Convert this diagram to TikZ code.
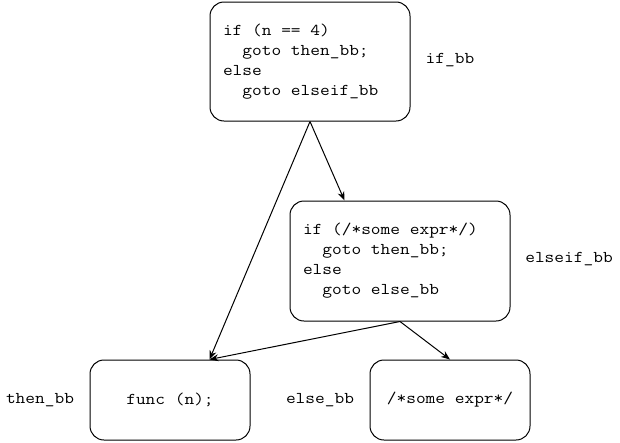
\documentclass[tikz,border=0pt]{standalone}
\usepackage{fontspec}
\newfontfamily\cour[FakeStretch=1.143]{Latin Modern Mono}
\usetikzlibrary{arrows.meta,calc}
\tikzset{
  bb/.style={draw=black, line width=1pt, rounded corners=14pt, inner ysep=0pt,
    font=\cour\fontsize{16.5}{20}\selectfont},
  codebox/.style={bb, align=left, inner xsep=13pt},
  lbl/.style={font=\cour\fontsize{16.5}{20}\selectfont, inner sep=0pt},
  conn/.style={draw=black, line width=1pt, -{Stealth[length=9pt,width=7pt]}}
}
\newcommand{\spc}{\hphantom{x}}
\begin{document}
\begin{tikzpicture}[x=1pt,y=-1pt]
\useasboundingbox (0,0) rectangle (620,442);
\node[codebox, text width=174pt, minimum height=119pt] (ifbb) at (310,61.5)
  {if\spc(n\spc==\spc4)\\\spc\spc goto\spc then\_bb;\\else\\\spc\spc goto\spc elseif\_bb};
\node[codebox, text width=194pt, minimum height=120pt] (elseifbb) at (400,261)
  {if\spc(/*some\spc expr*/)\\\spc\spc goto\spc then\_bb;\\else\\\spc\spc goto\spc else\_bb};
\node[bb, minimum width=160pt, minimum height=80pt] (thenbb) at (170,400) {func\spc(n);};
\node[bb, minimum width=160pt, minimum height=80pt] (elsebb) at (450,400) {/*some\spc expr*/};
\node[lbl] (lif) at (450,60) {if\_bb};
\node[lbl] (lelseif) at (569,259) {elseif\_bb};
\node[lbl] (lthen) at (40,400) {then\_bb};
\node[lbl] (lelse) at (320,400) {else\_bb};
\coordinate (thentop) at ($(thenbb.north west)+(120,0)$);
\coordinate (elseiftop) at ($(elseifbb.north west)+(55,0)$);
\draw[conn] (ifbb.south) -- (thentop);
\draw[conn] (ifbb.south) -- (elseiftop);
\draw[conn] (elseifbb.south) -- (thentop);
\draw[conn] (elseifbb.south) -- (elsebb.north);
\end{tikzpicture}
\end{document}
